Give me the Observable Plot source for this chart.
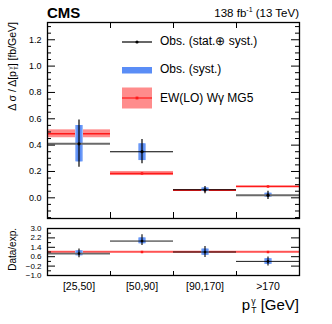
<!DOCTYPE html>
<html><head><meta charset="utf-8">
<script src="https://cdn.jsdelivr.net/npm/d3@7"></script>
<script src="https://cdn.jsdelivr.net/npm/@observablehq/plot@0.6"></script>
<style>
body{margin:0;background:#fff;font-family:"Liberation Sans",Arial,Helvetica,sans-serif;}
#c{position:relative;width:332px;height:324px;overflow:hidden;background:#fff}
#c svg{position:absolute;left:0;font-family:"Liberation Sans",Arial,Helvetica,sans-serif;}
.t{position:absolute;white-space:nowrap;color:#000;line-height:1}
.ss{display:inline-flex;flex-direction:column;vertical-align:middle;line-height:1;font-size:0.58em;margin-left:1px}
.ss span{display:block;line-height:1}
</style></head><body><div id="c"></div>
<script>
// ---- data ----
const bins = ["[25,50]", "[50,90]", "[90,170]", ">170"];
const obs      = [0.41, 0.35, 0.061, 0.02];
const obsTotLo = [0.232, 0.258, 0.03, -0.013];
const obsTotHi = [0.59, 0.443, 0.086, 0.05];
const obsSysLo = [0.273, 0.283, 0.05, 0.005];
const obsSysHi = [0.549, 0.41, 0.075, 0.035];
const pred     = [0.486, 0.185, 0.058, 0.086];
const predLo   = [0.456, 0.169, 0.054, 0.082];
const predHi   = [0.516, 0.2, 0.062, 0.09];

const ratio      = [0.87, 1.93, 1.0, 0.2];
const ratioTotLo = [0.52, 1.55, 0.54, -0.2];
const ratioTotHi = [1.26, 2.47, 1.46, 0.57];
const ratioSysLo = [0.68, 1.7, 0.72, -0.05];
const ratioSysHi = [1.1, 2.2, 1.25, 0.43];
const predRatio = 1.0, predRatioLo = 0.93, predRatioHi = 1.07;

const yMajor = [0, 0.2, 0.4, 0.6, 0.8, 1.0, 1.2];
const yMinor = d3.range(-0.15, 1.33, 0.05).map(v => +v.toFixed(2)).filter(v => !yMajor.some(m => Math.abs(m - v) < 1e-6));
const rMajor = [-1.0, -0.2, 0.6, 1.4, 2.2, 3.0];
const rMinor = [-0.6, 0.2, 1.0, 1.8, 2.6];
const xEdges = [1, 2, 3];

// ---- build ----
const idx = [0, 1, 2, 3];
const mainData = idx.map(i => ({bin: i, x1: i, x2: i + 1, c: i + 0.5,
  obs: obs[i], tlo: obsTotLo[i], thi: obsTotHi[i], slo: obsSysLo[i], shi: obsSysHi[i],
  pred: pred[i], plo: predLo[i], phi: predHi[i]}));
const ratioData = idx.map(i => ({bin: i, x1: i, x2: i + 1, c: i + 0.5,
  obs: ratio[i], tlo: ratioTotLo[i], thi: ratioTotHi[i], slo: ratioSysLo[i], shi: ratioSysHi[i], pred: predRatio}));

const BLUE = "#5a8df6", HALO = "#9dbcf9", RED = "#ff1a1a", BAND = "#ff8c8c";
const W = 332, FW = 252;
const lineCol = d => (d.bin === 0 || d.bin === 3) ? "#6a6a6a" : "#000";
const lineW = d => (d.bin === 0 || d.bin === 3) ? 2 : 1.1;

const mainH = 220, mT = 22, mB = 2, FH = mainH - mT - mB;
const main = Plot.plot({
  width: W, height: mainH, marginLeft: 47, marginRight: 33, marginTop: mT, marginBottom: mB,
  x: {domain: [0, 4], axis: null},
  y: {domain: [-0.157, 1.331], axis: null},
  marks: [
    Plot.rect(mainData, {x1: "x1", x2: "x2", y1: "plo", y2: "phi", fill: BAND}),
    Plot.ruleY(mainData, {y: "pred", x1: "x1", x2: "x2", stroke: RED, strokeWidth: 1.6}),
    Plot.dot(mainData, {x: "c", y: "pred", r: 1.4, symbol: "square", fill: RED}),
    Plot.ruleX(mainData, {x: "c", y1: "slo", y2: "shi", stroke: HALO, strokeWidth: 8}),
    Plot.ruleX(mainData, {x: "c", y1: "slo", y2: "shi", stroke: BLUE, strokeWidth: 5.5}),
    Plot.ruleY(mainData, {y: "obs", x1: "x1", x2: "x2", stroke: lineCol, strokeWidth: lineW}),
    Plot.ruleX(mainData, {x: "c", y1: "tlo", y2: "thi", stroke: "#000", strokeWidth: 1.2}),
    Plot.dot(mainData, {x: "c", y: "obs", r: 1.6, fill: "#000"}),
    Plot.tickY(yMajor, {y: d => d, insetRight: FW - 8, stroke: "#000"}),
    Plot.tickY(yMajor, {y: d => d, insetLeft: FW - 8, stroke: "#000"}),
    Plot.tickY(yMinor, {y: d => d, insetRight: FW - 4, stroke: "#000"}),
    Plot.tickY(yMinor, {y: d => d, insetLeft: FW - 4, stroke: "#000"}),
    Plot.tickX(xEdges, {x: d => d, insetTop: FH - 6, stroke: "#000"}),
    Plot.tickX(xEdges, {x: d => d, insetBottom: FH - 6, stroke: "#000"}),
    Plot.axisY({ticks: yMajor, tickSize: 0, tickPadding: 6, tickFormat: d3.format(".1f"), fontSize: 9, label: null}),
    Plot.frame({stroke: "#000", strokeWidth: 1.3})
  ]
});
main.style.top = "0px";

const rH = 80, rT = 8, rB = 25, RFH = rH - rT - rB;
const ratioPlot = Plot.plot({
  width: W, height: rH, marginLeft: 47, marginRight: 33, marginTop: rT, marginBottom: rB,
  x: {domain: [0, 4], axis: null},
  y: {domain: [-1.0, 3.0], axis: null},
  marks: [
    Plot.rect([0], {x1: () => 0, x2: () => 4, y1: () => predRatioLo, y2: () => predRatioHi, fill: BAND}),
    Plot.ruleY([predRatio], {y: d => d, stroke: RED, strokeWidth: 1.2}),
    Plot.dot(ratioData, {x: "c", y: "pred", r: 1.4, symbol: "square", fill: RED}),
    Plot.ruleX(ratioData, {x: "c", y1: "slo", y2: "shi", stroke: HALO, strokeWidth: 8}),
    Plot.ruleX(ratioData, {x: "c", y1: "slo", y2: "shi", stroke: BLUE, strokeWidth: 5.5}),
    Plot.ruleY(ratioData, {y: "obs", x1: "x1", x2: "x2", stroke: d => d.bin === 0 ? "#6a6a6a" : "#000", strokeWidth: d => d.bin === 0 ? 1.8 : 0.9}),
    Plot.ruleX(ratioData, {x: "c", y1: "tlo", y2: "thi", stroke: "#000", strokeWidth: 1.1}),
    Plot.dot(ratioData, {x: "c", y: "obs", r: 1.3, fill: "#000"}),
    Plot.tickY(rMajor, {y: d => d, insetRight: FW - 8, stroke: "#000"}),
    Plot.tickY(rMinor, {y: d => d, insetRight: FW - 4, stroke: "#000"}),
    Plot.tickY(rMajor, {y: d => d, insetLeft: FW - 8, stroke: "#000"}),
    Plot.tickX(xEdges, {x: d => d, insetTop: RFH - 4, stroke: "#000"}),
    Plot.axisY({ticks: rMajor, tickSize: 0, tickPadding: 6, tickFormat: d3.format(".1f"), fontSize: 8, label: null}),
    Plot.axisX({ticks: [0.5, 1.5, 2.5, 3.5], tickSize: 0, tickPadding: 7, tickFormat: d => bins[Math.floor(d)], fontSize: 10.5, label: null}),
    Plot.frame({stroke: "#000", strokeWidth: 1.3})
  ]
});
ratioPlot.style.top = "220px";

const c = document.getElementById("c");
c.appendChild(main);
c.appendChild(ratioPlot);

function addText(html, style) {
  const d = document.createElement("div");
  d.className = "t";
  d.innerHTML = html;
  Object.assign(d.style, style);
  c.appendChild(d);
  return d;
}
// header
addText("CMS", {left: "47px", top: "5px", fontSize: "15px", fontWeight: "bold"});
addText("138 fb<sup style='font-size:7px;vertical-align:5px'>-1</sup> (13 TeV)", {right: "33px", top: "6px", fontSize: "11.5px"});
// y title main
addText("Δ σ / Δ[p<span class='ss'><span>γ</span><span>T</span></span>] [fb/GeV]",
  {left: "4px", top: "222px", width: "200px", textAlign: "right", fontSize: "10.5px", lineHeight: "16px",
   transformOrigin: "0 0", transform: "rotate(-90deg)"});
// y title ratio
addText("Data/exp.", {left: "6px", top: "328px", width: "100px", textAlign: "right", fontSize: "10px", lineHeight: "14px",
   transformOrigin: "0 0", transform: "rotate(-90deg)"});
// x title
addText("p<span class='ss'><span>γ</span><span>T</span></span> [GeV]", {right: "33px", top: "297px", fontSize: "15px"});

// legend
function sw(html, top) {
  const d = document.createElement("div");
  d.style.cssText = `position:absolute;left:122px;top:${top}px;width:30px;height:22px`;
  d.innerHTML = html;
  c.appendChild(d);
}
sw(`<svg width="30" height="22" style="position:absolute;left:0;top:0"><line x1="0" x2="30" y1="11" y2="11" stroke="#000" stroke-width="1.2"/><circle cx="15" cy="11" r="1.6" fill="#000"/></svg>`, 31);
sw(`<svg width="30" height="22" style="position:absolute;left:0;top:0"><rect x="0" y="8" width="30" height="6.5" fill="${BLUE}"/></svg>`, 59);
sw(`<svg width="30" height="22" style="position:absolute;left:0;top:0"><rect x="0" y="0.5" width="30" height="21" fill="${BAND}"/><line x1="0" x2="30" y1="11" y2="11" stroke="${RED}" stroke-width="1.2"/><rect x="13.6" y="9.6" width="2.8" height="2.8" fill="${RED}"/></svg>`, 87);
addText("Obs. (stat.⊕ syst.)", {left: "160px", top: "35px", fontSize: "12px"});
addText("Obs. (syst.)", {left: "160px", top: "63px", fontSize: "12px"});
addText("EW(LO) Wγ MG5", {left: "160px", top: "92px", fontSize: "12px"});
</script></body></html>
